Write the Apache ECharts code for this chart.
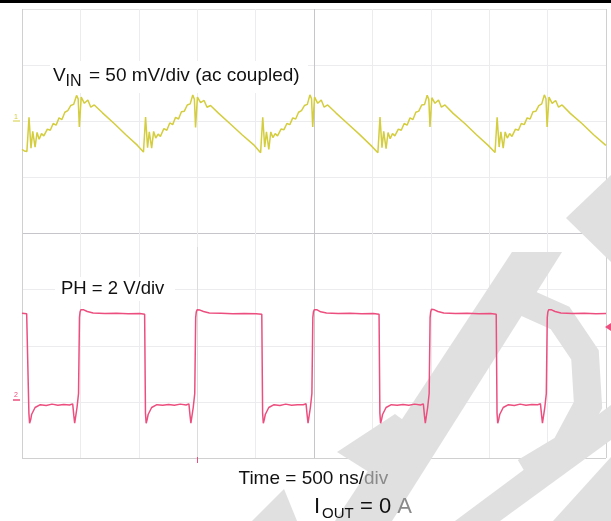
<!DOCTYPE html>
<html><head><meta charset="utf-8">
<script src="https://cdn.jsdelivr.net/npm/echarts@6/dist/echarts.min.js"></script>
<style>html,body{margin:0;padding:0;background:#fff}#c{width:611px;height:521px}</style>
</head><body><div id="c"></div>
<script>
// Time axis: ns, 500 ns/div, 10 divisions
const timeRange = [0, 5000];
const timeStep = 500;
// V_IN channel (mV, 50 mV/div, ac coupled)
const vinRange = [-300, 100];
const vinStep = 50;
// PH channel (V, 2 V/div)
const phRange = [-2, 14];
const phStep = 2;

// V_IN trace [ns, mV]
const vinData = [
[0,-25],[20,-26.5],[42,-27],[60,3.5],[77,-24],[92,-9],[112,-23],[129,-10],[147,-16],[167,-11],[187,-13],[217,-7],[242,-8],[267,-2],[292,-3.5],[317,3],[342,1.5],[367,8],[392,9.5],[417,14],[442,15],[467,23],[481,20],[491,-5],[507,21.5],[534,16],[564,19],[589,12.5],[619,14.5],[689,7.5],[789,-2],[889,-12],[989,-21.5],[1040,-27.5],
[1058,3.8],[1075,-23.5],[1090,-9.5],[1110,-24],[1127,-9],[1145,-15],[1165,-11.5],[1185,-13.5],[1215,-6.5],[1240,-8],[1265,-1.5],[1290,-3],[1315,3.5],[1340,2],[1365,8.5],[1390,9],[1415,14.5],[1440,15.5],[1462,23.4],[1476,19.5],[1486,-5.5],[1502,21.5],[1529,16.5],[1559,18.5],[1584,12.5],[1614,14],[1684,7],[1784,-2.5],[1884,-12],[1984,-21],[2043,-28],
[2061,3.5],[2078,-23],[2093,-9.5],[2113,-25],[2130,-9.5],[2148,-14.5],[2168,-11],[2188,-13],[2218,-7],[2243,-7.5],[2268,-2],[2293,-3],[2318,3],[2343,2],[2368,8],[2393,9.5],[2418,14],[2443,15],[2465,23.5],[2479,20],[2489,-5],[2505,21.5],[2532,16],[2562,19],[2587,12.5],[2617,14.5],[2687,7.5],[2787,-2],[2887,-11.5],[2987,-21.5],[3047,-28],
[3065,3.8],[3082,-23.5],[3097,-9],[3117,-24.5],[3134,-10],[3152,-15.5],[3172,-11],[3192,-13],[3222,-7],[3247,-8],[3272,-2],[3297,-3.5],[3322,3],[3347,1.5],[3372,8],[3397,9],[3422,14.5],[3447,15],[3469,23.2],[3483,19.5],[3493,-5],[3509,21],[3536,16],[3566,19],[3591,12.5],[3621,14.5],[3691,7],[3791,-2],[3891,-12],[3991,-21.5],[4050,-27.8],
[4068,3.5],[4085,-23],[4100,-9.5],[4120,-24],[4137,-9.5],[4155,-15],[4175,-11],[4195,-13.5],[4225,-7],[4250,-8],[4275,-2],[4300,-3],[4325,3],[4350,2],[4375,8.5],[4400,9],[4425,14],[4450,15.5],[4472,23.5],[4486,20],[4496,-5],[4512,21.5],[4539,16],[4569,18.5],[4594,12.5],[4624,14.5],[4694,7],[4794,-2],[4894,-12],[4994,-21],[5000,-21.5]
];

// PH trace [ns, V]
const phData = [
[0,3.16],[40,3.14],[52,3.1],[59,-0.4],[65,-0.76],[75,-0.62],[82,-0.45],[112,-0.2],[157,-0.1],[207,-0.13],[257,-0.08],[307,-0.12],[357,-0.09],[407,-0.11],[434,-0.07],[444,-0.5],[451,-0.76],[461,-0.76],[471,-0.2],[484,0.3],[492,3.0],[497,3.2],[504,3.28],[529,3.28],[559,3.22],[609,3.17],[709,3.15],[809,3.16],[909,3.14],[1009,3.15],[1050,3.12],
[1057,-0.4],[1063,-0.76],[1073,-0.6],[1080,-0.45],[1110,-0.2],[1155,-0.1],[1205,-0.12],[1255,-0.09],[1305,-0.12],[1355,-0.08],[1405,-0.11],[1429,-0.07],[1439,-0.5],[1446,-0.76],[1456,-0.74],[1466,-0.2],[1479,0.3],[1487,3.0],[1492,3.2],[1499,3.28],[1524,3.27],[1554,3.22],[1604,3.17],[1704,3.16],[1804,3.14],[1904,3.15],[2004,3.14],[2053,3.12],
[2060,-0.4],[2066,-0.76],[2076,-0.6],[2083,-0.45],[2113,-0.2],[2158,-0.1],[2208,-0.13],[2258,-0.08],[2308,-0.12],[2358,-0.1],[2408,-0.1],[2432,-0.07],[2442,-0.5],[2449,-0.76],[2459,-0.75],[2469,-0.2],[2482,0.3],[2490,3.0],[2495,3.2],[2502,3.28],[2527,3.28],[2557,3.21],[2607,3.17],[2707,3.15],[2807,3.16],[2907,3.14],[3007,3.15],[3057,3.12],
[3064,-0.4],[3070,-0.76],[3080,-0.6],[3087,-0.45],[3117,-0.2],[3162,-0.1],[3212,-0.12],[3262,-0.09],[3312,-0.12],[3362,-0.08],[3412,-0.11],[3436,-0.07],[3446,-0.5],[3453,-0.76],[3463,-0.76],[3473,-0.2],[3486,0.3],[3494,3.0],[3499,3.2],[3506,3.3],[3531,3.28],[3561,3.22],[3611,3.17],[3711,3.15],[3811,3.16],[3911,3.14],[4011,3.15],[4060,3.12],
[4067,-0.4],[4073,-0.76],[4083,-0.6],[4090,-0.45],[4120,-0.2],[4165,-0.1],[4215,-0.13],[4265,-0.08],[4315,-0.12],[4365,-0.09],[4415,-0.1],[4439,-0.07],[4449,-0.5],[4456,-0.76],[4466,-0.75],[4476,-0.2],[4489,0.3],[4497,3.0],[4502,3.2],[4509,3.28],[4534,3.28],[4564,3.22],[4614,3.17],[4714,3.15],[4814,3.16],[4914,3.14],[5000,3.15]
];

const vinLabelMain = 'V';
const vinLabelSub = 'IN';
const vinLabelRest = '= 50 mV/div (ac coupled)';
const phLabel = 'PH = 2 V/div';
const timeLabelA = 'Time = 500 ns/';
const timeLabelB = 'div';
const ioutMain = 'I';
const ioutSub = 'OUT';
const ioutRestA = '= 0 ';
const ioutRestB = 'A';

const FONT = '"Liberation Sans", Arial, sans-serif';
const light = '#ececee', center = '#c6c6ca', border = '#d0d0d0';
const xLineColors = [border, light, light, light, light, center, light, light, light, light, border];
const yLineColors = [border, light, light, light, center, light, light, light, '#e4e4e4'];
const wm = '#e0e0e0';

const chart = echarts.init(document.getElementById('c'), null, {renderer: 'canvas'});
chart.setOption({
  animation: false,
  backgroundColor: '#ffffff',
  grid: {left: 22, right: 5, top: 9, bottom: 63, show: false},
  xAxis: {
    type: 'value', min: timeRange[0], max: timeRange[1], interval: timeStep,
    axisLine: {show: false}, axisTick: {show: false}, axisLabel: {show: false},
    splitLine: {show: true, lineStyle: {color: xLineColors, width: 1}}
  },
  yAxis: [
    {type: 'value', min: vinRange[0], max: vinRange[1], interval: vinStep,
     axisLine: {show: false}, axisTick: {show: false}, axisLabel: {show: false},
     splitLine: {show: true, lineStyle: {color: yLineColors, width: 1}}},
    {type: 'value', min: phRange[0], max: phRange[1], interval: phStep,
     axisLine: {show: false}, axisTick: {show: false}, axisLabel: {show: false},
     splitLine: {show: false}}
  ],
  series: [
    {type: 'line', yAxisIndex: 0, data: vinData, showSymbol: false, silent: true, z: 3,
     lineStyle: {color: '#d4cd3e', width: 1.5}},
    {type: 'line', yAxisIndex: 1, data: phData, showSymbol: false, silent: true, z: 3,
     lineStyle: {color: '#ec4f7f', width: 1.5}}
  ],
  graphic: [
    // watermark shapes
    {type: 'polygon', z: 1, shape: {points: [[611,175],[566,218],[611,262]]}, style: {fill: wm}},
    {type: 'polygon', z: 1, shape: {points: [[512,252],[562,252],[392,521],[335,521]]}, style: {fill: wm}},
    {type: 'polygon', z: 1, shape: {points: [[337,452],[395,414],[430,440],[372,474]]}, style: {fill: wm}},
    {type: 'polygon', z: 1, shape: {points: [[252,521],[284,489],[297,521]]}, style: {fill: wm}},
    {type: 'polygon', z: 1, shape: {points: [[611,405],[611,440],[500,521],[455,521]]}, style: {fill: wm}},
    {type: 'polygon', z: 1, shape: {points: [[553,521],[611,457],[611,521]]}, style: {fill: wm}},
    {type: 'polyline', z: 1, shape: {points: [[520,300],[560,318],[585,355],[588,405],[565,448],[525,472]]}, style: {stroke: wm, lineWidth: 28, fill: null}},
    // top black bar
    {type: 'rect', z: 20, shape: {x: 0, y: 0, width: 611, height: 3}, style: {fill: '#000'}},
    // cursor line & trigger marks
    {type: 'line', z: 2, shape: {x1: 197.5, y1: 247, x2: 197.5, y2: 458}, style: {stroke: '#dcdcdc', lineWidth: 1}},
    {type: 'line', z: 4, shape: {x1: 197.5, y1: 457, x2: 197.5, y2: 463}, style: {stroke: '#ec4f7f', lineWidth: 1}},
    {type: 'polygon', z: 4, shape: {points: [[611,323],[605,327],[611,331]]}, style: {fill: '#ec4f7f'}},
    // channel ground markers
    {type: 'line', z: 4, shape: {x1: 13, y1: 121, x2: 20, y2: 121}, style: {stroke: '#d4cd3e', lineWidth: 1}},
    {type: 'text', z: 4, x: 14, y: 117, style: {text: '1', font: '7px ' + FONT, fill: '#d4cd3e', align: 'left', verticalAlign: 'middle'}},
    {type: 'line', z: 4, shape: {x1: 13, y1: 400, x2: 20, y2: 400}, style: {stroke: '#ec4f7f', lineWidth: 1.5}},
    {type: 'text', z: 4, x: 14, y: 395, style: {text: '2', font: '7px ' + FONT, fill: '#ec4f7f', align: 'left', verticalAlign: 'middle'}},
    // label backgrounds
    {type: 'rect', z: 5, shape: {x: 50, y: 61, width: 258, height: 32}, style: {fill: '#fff'}},
    {type: 'rect', z: 5, shape: {x: 55, y: 277, width: 120, height: 24}, style: {fill: '#fff'}},
    // labels
    {type: 'text', z: 10, x: 53, y: 76, style: {text: vinLabelMain, font: '19px ' + FONT, fill: '#111', align: 'left', verticalAlign: 'middle'}},
    {type: 'text', z: 10, x: 65.5, y: 81.5, style: {text: vinLabelSub, font: '16px ' + FONT, fill: '#111', align: 'left', verticalAlign: 'middle'}},
    {type: 'text', z: 10, x: 89, y: 76, style: {text: vinLabelRest, font: '19px ' + FONT, fill: '#111', align: 'left', verticalAlign: 'middle'}},
    {type: 'text', z: 10, x: 61, y: 289, style: {text: phLabel, font: '18.5px ' + FONT, fill: '#111', align: 'left', verticalAlign: 'middle'}},
    {type: 'text', z: 10, x: 238.5, y: 478.5, style: {text: '{a|' + timeLabelA + '}{b|' + timeLabelB + '}', align: 'left', verticalAlign: 'middle',
      rich: {a: {font: '19px ' + FONT, fill: '#111'}, b: {font: '19px ' + FONT, fill: '#8a8a8a'}}}},
    {type: 'text', z: 10, x: 314, y: 506.5, style: {text: ioutMain, font: '22px ' + FONT, fill: '#111', align: 'left', verticalAlign: 'middle'}},
    {type: 'text', z: 10, x: 322, y: 513.5, style: {text: ioutSub, font: '15px ' + FONT, fill: '#111', align: 'left', verticalAlign: 'middle'}},
    {type: 'text', z: 10, x: 360, y: 506.5, style: {text: '{a|' + ioutRestA + '}{b|' + ioutRestB + '}', align: 'left', verticalAlign: 'middle',
      rich: {a: {font: '22px ' + FONT, fill: '#111'}, b: {font: '22px ' + FONT, fill: '#8a8a8a'}}}}
  ]
});
</script>
</body></html>
